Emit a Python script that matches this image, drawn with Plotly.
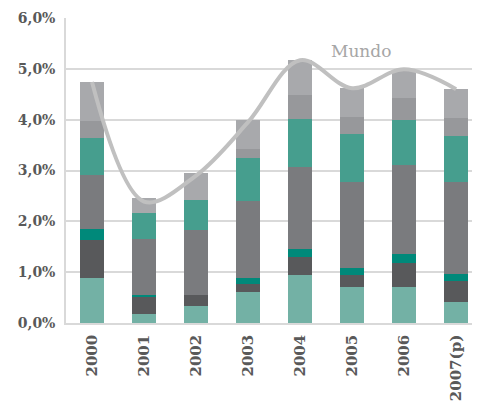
import plotly.graph_objects as go

years = ["2000", "2001", "2002", "2003", "2004", "2005", "2006", "2007(p)"]
seg1 = [0.89, 0.18, 0.33, 0.61, 0.95, 0.71, 0.71, 0.42]  # light teal
seg2 = [0.75, 0.33, 0.22, 0.16, 0.34, 0.23, 0.47, 0.40]  # dark gray
seg3 = [0.21, 0.04, 0.00, 0.12, 0.17, 0.15, 0.17, 0.15]  # dark teal
seg4 = [1.06, 1.11, 1.28, 1.51, 1.60, 1.69, 1.75, 1.81]  # gray
seg5 = [0.72, 0.50, 0.59, 0.85, 0.95, 0.93, 0.90, 0.89]  # teal
seg6 = [0.34, 0.00, 0.00, 0.18, 0.48, 0.35, 0.43, 0.37]  # medium gray
seg7 = [0.78, 0.30, 0.54, 0.57, 0.69, 0.56, 0.52, 0.56]  # light gray
mundo = [4.74, 2.39, 2.90, 3.95, 5.17, 4.62, 4.99, 4.60]

segments = [seg1, seg2, seg3, seg4, seg5, seg6, seg7]
colors = ["#73b1a5", "#58595b", "#00897a", "#7a7b7e", "#469e8e", "#97989b", "#a8a9ac"]

fig = go.Figure()
for vals, c in zip(segments, colors):
    fig.add_trace(go.Bar(x=years, y=[v / 100 for v in vals], marker=dict(color=c, line=dict(width=0)),
                         width=0.46, showlegend=False, hoverinfo="skip"))

fig.add_trace(go.Scatter(x=years, y=[v / 100 for v in mundo], mode="lines",
                         line=dict(color="#c0c0c0", width=4, shape="spline", smoothing=1.0),
                         showlegend=False))

fig.add_annotation(x=5.17, y=0.0536, xref="x", yref="y", text="Mundo", showarrow=False,
                   font=dict(family="DejaVu Serif, serif", size=17, color="#a6a6a6"))

fig.update_layout(
    barmode="stack",
    width=472, height=395,
    margin=dict(l=58, r=0, t=10, b=80),
    plot_bgcolor="white", paper_bgcolor="white",
    separators=",.",
    font=dict(family="DejaVu Serif, serif", size=15, color="#595959"),
)
tfy = dict(family="DejaVu Serif, serif", size=14, color="#595959", weight="bold")
tfx = dict(family="DejaVu Serif, serif", size=15, color="#595959", weight="bold")
fig.update_yaxes(range=[0, 0.06], dtick=0.01, tickformat=".1%", automargin=False,
                 showgrid=True, gridcolor="#d9d9d9", gridwidth=1.5,
                 showline=True, linecolor="#d9d9d9", linewidth=1.5,
                 ticks="", ticklabelstandoff=6, tickfont=tfy)
fig.update_xaxes(range=[-0.5, 7.46], tickangle=-90, automargin=False,
                 showline=True, linecolor="#d9d9d9", linewidth=1.5,
                 ticks="", ticklabelstandoff=4, tickfont=tfx)

fig.write_html("out.html")
